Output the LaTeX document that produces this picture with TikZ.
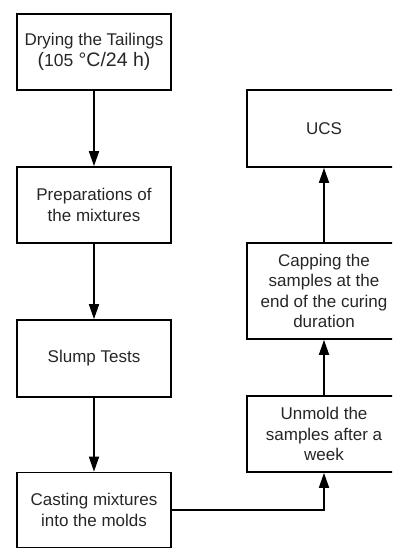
\documentclass[tikz,border=0pt]{standalone}
\usepackage{fontspec}
\setmainfont{Liberation Sans}
\usetikzlibrary{arrows.meta}
\begin{document}
\begin{tikzpicture}[x=1pt,y=-1pt,
  stepbox/.style={draw=black,line width=1.7pt,minimum width=154pt,inner sep=2pt,
    align=center,font=\fontsize{17}{20.6}\selectfont,text=black!85},
  flow/.style={line width=1.7pt,-{Triangle[width=10pt,length=15pt]}}]
\useasboundingbox (0,0) rectangle (392,548);
\clip (0,0) rectangle (392,548);
\node[stepbox,minimum height=76pt] (dry) at (94,52) {Drying the Tailings\\{\fontsize{19.5}{21}\selectfont(}{\fontsize{17.5}{21}\selectfont 105}{\fontsize{19.5}{21}\selectfont\ °C/24 h)}};
\node[stepbox,minimum height=76pt] (prep) at (94,205) {Preparations of\\the mixtures};
\node[stepbox,minimum height=77pt] (slump) at (94,358.5) {Slump Tests};
\node[stepbox,minimum height=75pt] (cast) at (94,510) {Casting mixtures\\into the molds};
\node[stepbox,minimum height=77pt] (ucs) at (324,128.5) {UCS};
\node[stepbox,minimum height=96pt] (cap) at (324,291) {Capping the\\samples at the\\end of the curing\\duration};
\node[stepbox,minimum height=76pt] (unm) at (324,434) {Unmold the\\samples after a\\week};
\draw[flow] (dry) -- (prep);
\draw[flow] (prep) -- (slump);
\draw[flow] (slump) -- (cast);
\draw[flow] (cast.east) -| (unm.south);
\draw[flow] (unm) -- (cap);
\draw[flow] (cap) -- (ucs);
\end{tikzpicture}
\end{document}
